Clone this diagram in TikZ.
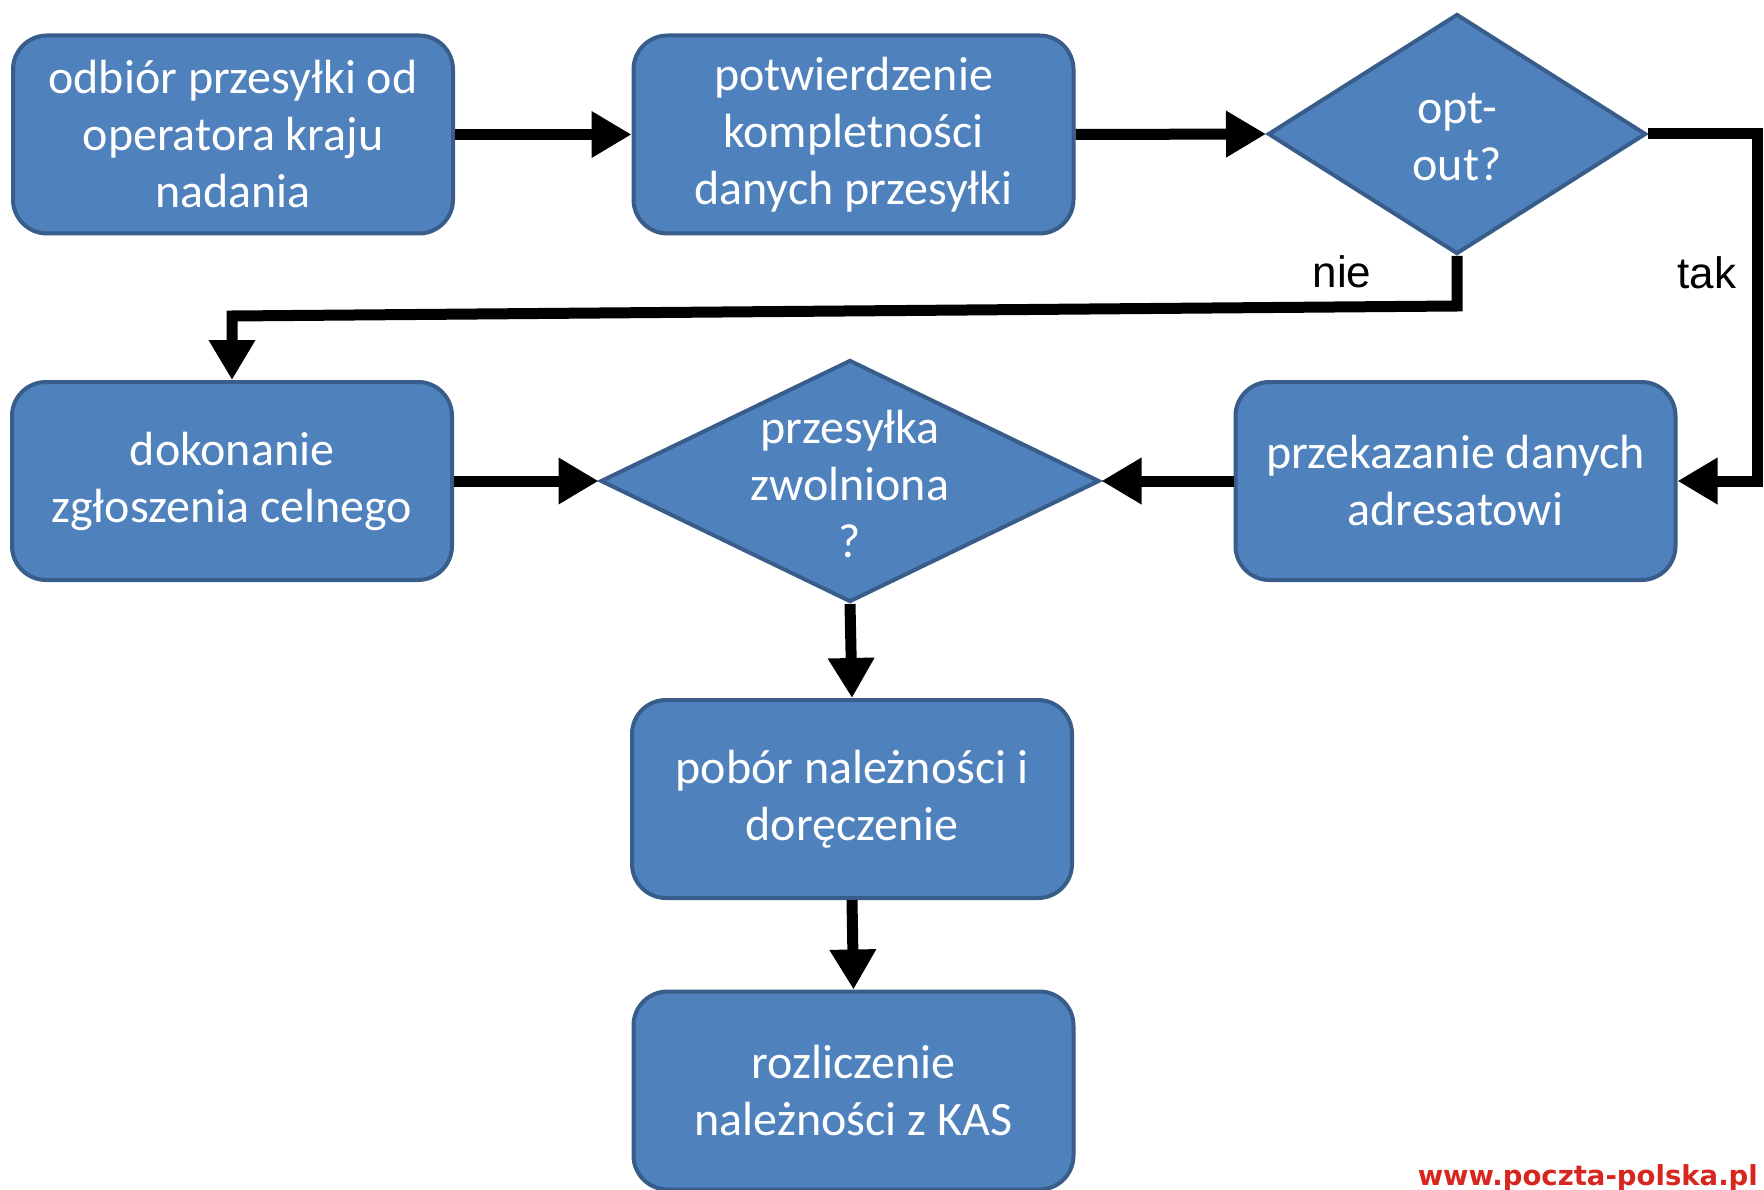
\documentclass[tikz,border=0pt]{standalone}
\usepackage{fontspec}
\usepackage{graphicx}
\setmainfont{Carlito}
\newfontfamily\labelfont{Liberation Sans}
\newfontfamily\wmfont{DejaVu Sans}
\usetikzlibrary{shapes.geometric,arrows.meta}
\definecolor{boxfill}{HTML}{4F81BD}
\definecolor{boxline}{HTML}{385D8A}
\definecolor{wmred}{HTML}{D7261E}
\begin{document}
\begin{tikzpicture}[x=1pt,y=-1pt,
  boxtxt/.style={font=\fontsize{48}{57}\selectfont, text=white, align=center},
  stepbox/.style={boxtxt, draw=boxline, fill=boxfill, line width=4pt, rounded corners=34pt, minimum width=440pt, minimum height=198pt, inner sep=0pt},
  decision/.style={diamond, draw=boxline, fill=boxfill, line width=4pt, inner sep=0pt},
  flow/.style={line width=11pt, -{Triangle[length=40pt,width=44pt]}},
  edgelabel/.style={font=\labelfont\fontsize{44}{50}\selectfont, text=black, inner sep=0pt}
]
\useasboundingbox (0,0) rectangle (1764,1190);

\node[stepbox] (b1) at (233,134.5) {odbiór przesyłki od\\operatora kraju\\nadania};
\node[stepbox] (b2) at (853.5,134.5) {potwierdzenie\\kompletności\\danych przesyłki};
\node[decision, minimum width=378pt, minimum height=240pt] (d1) at (1457,134) {};
\node[boxtxt] (d1t) at (1457,137) {opt-\\out?};

\node[stepbox] (b3) at (232,481) {dokonanie\\zgłoszenia celnego};
\node[decision, minimum width=499pt, minimum height=242pt] (d2) at (850,481) {};
\node[boxtxt] (d2t) at (850,484) {przesyłka\\zwolniona\\?};
\node[stepbox] (b4) at (1455.5,481) {przekazanie danych\\adresatowi};

\node[stepbox] (b5) at (852,799) {pobór należności i\\doręczenie};
\node[stepbox] (b6) at (853.5,1090.5) {rozliczenie\\należności z KAS};

\coordinate (c1) at (1757,134);
\coordinate (n1) at (1457,306);
\coordinate (n2) at (232,316);

\draw[flow] (b1.east) -- (b2.west);
\draw[flow] (b2.east) -- (d1.west);
\draw[flow] (d1.east) -- (c1) |- (b4.east);
\draw[flow] (d1.south) -- (n1) -- (n2) -- (b3.north);
\draw[flow] (b3.east) -- (d2.west);
\draw[flow] (b4.west) -- (d2.east);
\draw[flow] (d2.south) -- (b5.north);
\draw[flow] (b5.south) -- (b6.north);

\node[edgelabel] (lnie) at (1342,272) {nie};
\node[edgelabel] (ltak) at (1707,273) {tak};

\node[anchor=base east, text=wmred, inner sep=0pt] (wm) at (1758,1185) {\resizebox{340pt}{!}{\wmfont\bfseries www.poczta-polska.pl}};
\end{tikzpicture}
\end{document}
